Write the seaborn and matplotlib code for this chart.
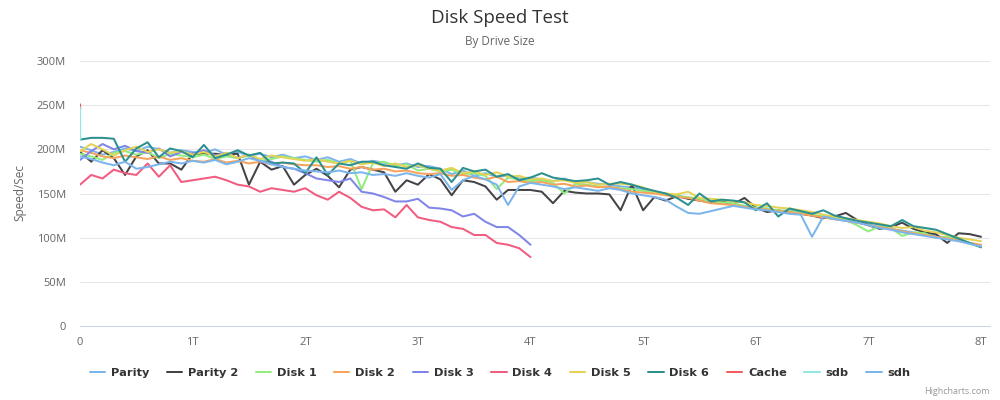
import numpy as np
import pandas as pd
import seaborn as sns
import matplotlib.pyplot as plt
from matplotlib.ticker import FuncFormatter

# drive size in T, speed in M/sec (step 0.1T)
sizes_8t = np.round(np.arange(81) * 0.1, 1)
sizes_4t = np.round(np.arange(41) * 0.1, 1)
sizes_ssd = [0.0, 0.002]

parity = [203, 199, 194, 197, 201, 198, 203, 200, 196, 199, 197,
          196, 200, 194, 197, 193, 195, 191, 194, 190, 192,
          188, 191, 186, 189, 184, 187, 185, 182, 184, 180,
          181, 178, 172, 176, 170, 173, 169, 170, 167, 168,
          166, 164, 167, 162, 163, 161, 160, 158, 157, 155,
          151, 149, 148, 145, 143, 142, 139, 137, 136, 134,
          133, 130, 131, 128, 126, 123, 121, 120, 117, 115,
          112, 110, 108, 106, 104, 102, 100, 97, 94, 91]
parity2 = [197, 186, 199, 190, 171, 192, 199, 184, 184, 177, 195,
           195, 195, 194, 195, 160, 186, 177, 181, 160, 171,
           178, 170, 157, 177, 180, 177, 174, 152, 165, 160,
           172, 166, 148, 165, 163, 158, 143, 154, 154, 154,
           152, 139, 153, 151, 150, 150, 149, 131, 160, 131,
           146, 142, 147, 144, 142, 140, 141, 138, 145, 134,
           129, 131, 128, 127, 125, 122, 124, 128, 120, 114,
           110, 112, 117, 110, 106, 104, 94, 105, 104, 101]
disk1 = [195, 192, 188, 196, 198, 194, 197, 190, 195, 193, 191,
         194, 189, 192, 190, 193, 187, 189, 192, 190, 188,
         186, 188, 184, 187, 155, 184, 186, 181, 183, 176,
         178, 175, 177, 172, 173, 170, 155, 168, 166, 164,
         165, 162, 150, 161, 160, 158, 157, 156, 155, 153,
         151, 150, 147, 146, 144, 141, 140, 139, 136, 134,
         133, 131, 130, 128, 126, 124, 122, 120, 114, 107,
         113, 111, 102, 106, 105, 100, 101, 97, 93, 90]
disk2 = [199, 196, 192, 190, 193, 191, 189, 192, 188, 190, 187,
         186, 189, 185, 187, 184, 186, 183, 185, 183, 182,
         182, 180, 181, 178, 180, 177, 178, 175, 176, 173,
         172, 173, 170, 171, 168, 166, 169, 163, 164, 162,
         163, 160, 161, 158, 159, 157, 158, 155, 152, 151,
         150, 148, 146, 145, 142, 139, 138, 137, 135, 133,
         132, 130, 129, 127, 125, 123, 121, 119, 117, 114,
         112, 110, 107, 105, 103, 101, 99, 97, 94, 92]
disk3 = [188, 198, 206, 200, 204, 198, 196, 201, 192, 197, 195,
         199, 193, 196, 190, 194, 186, 186, 180, 178, 173,
         167, 165, 163, 167, 152, 150, 146, 141, 141, 144,
         134, 133, 131, 124, 127, 118, 112, 112, 103, 92]
disk4 = [160, 171, 167, 177, 173, 171, 184, 169, 182, 163, 165,
         167, 169, 165, 160, 158, 152, 156, 154, 152, 156,
         148, 143, 152, 145, 135, 131, 132, 123, 137, 123,
         120, 118, 112, 110, 103, 103, 94, 92, 88, 78]
disk5 = [198, 206, 200, 193, 199, 203, 197, 200, 196, 198, 194,
         197, 192, 196, 190, 194, 189, 193, 191, 189, 187,
         189, 186, 184, 187, 183, 185, 181, 184, 180, 182,
         178, 176, 179, 173, 175, 171, 174, 169, 170, 166,
         167, 164, 165, 162, 163, 160, 161, 161, 160, 157,
         152, 150, 149, 152, 145, 144, 143, 141, 140, 137,
         136, 134, 133, 131, 129, 126, 124, 122, 120, 118,
         116, 113, 111, 112, 108, 106, 103, 100, 98, 96]
disk6 = [211, 213, 213, 212, 186, 201, 208, 191, 201, 198, 191,
         205, 190, 194, 199, 193, 196, 184, 185, 184, 173,
         191, 171, 184, 182, 186, 186, 182, 180, 178, 184,
         179, 178, 163, 179, 175, 177, 169, 172, 165, 168,
         173, 168, 166, 164, 165, 167, 160, 163, 160, 156,
         153, 150, 145, 137, 150, 141, 143, 142, 140, 131,
         139, 124, 133, 130, 127, 131, 125, 122, 119, 117,
         115, 113, 120, 113, 111, 109, 104, 99, 94, 89]
cache = [251, 245]
sdb = [247, 211]
sdh = [192, 189, 185, 182, 186, 178, 180, 183, 186, 184, 187,
       185, 188, 183, 186, 190, 187, 183, 180, 178, 176,
       175, 174, 176, 173, 174, 171, 172, 170, 173, 170,
       168, 172, 154, 165, 170, 166, 160, 137, 158, 162,
       160, 158, 155, 157, 155, 153, 156, 154, 150, 148,
       146, 143, 135, 128, 127, 130, 133, 136, 134, 132,
       131, 129, 127, 126, 101, 124, 121, 119, 117, 114,
       111, 109, 106, 104, 102, 100, 98, 96, 93, 90]

names = ['Parity', 'Parity 2', 'Disk 1', 'Disk 2', 'Disk 3', 'Disk 4',
         'Disk 5', 'Disk 6', 'Cache', 'sdb', 'sdh']
colors = ['#7cb5ec', '#434348', '#90ed7d', '#f7a35c', '#8085e9', '#f15c80',
          '#e4d354', '#2b908f', '#f45b5b', '#91e8e1', '#7cb5ec']
series = [(parity, sizes_8t), (parity2, sizes_8t), (disk1, sizes_8t),
          (disk2, sizes_8t), (disk3, sizes_4t), (disk4, sizes_4t),
          (disk5, sizes_8t), (disk6, sizes_8t), (cache, sizes_ssd),
          (sdb, sizes_ssd), (sdh, sizes_8t)]

frames = []
for name, (vals, xs) in zip(names, series):
    frames.append(pd.DataFrame({'size': xs, 'speed': vals, 'disk': name}))
df = pd.concat(frames, ignore_index=True)

sns.set_theme(style='white')
plt.rcParams['font.family'] = ['Open Sans', 'DejaVu Sans']
plt.rcParams['lines.solid_joinstyle'] = 'round'

fig, ax = plt.subplots(figsize=(10, 4), dpi=100)
fig.subplots_adjust(left=0.08, right=0.99, top=0.8475, bottom=0.185)

sns.lineplot(data=df, x='size', y='speed', hue='disk', hue_order=names,
             palette=colors, estimator=None, sort=False, linewidth=1.45, ax=ax)

ax.set_xlim(0, 8.08)
ax.set_ylim(0, 300)
ax.set_yticks(range(0, 301, 50))
ax.set_xticks(range(0, 9))
ax.yaxis.set_major_formatter(FuncFormatter(lambda v, p: '0' if v == 0 else f'{int(v)}M'))
ax.xaxis.set_major_formatter(FuncFormatter(lambda v, p: '0' if v == 0 else f'{int(v)}T'))
ax.grid(axis='y', color='#e6e6e6', linewidth=0.75)
ax.set_axisbelow(True)
for s in ['top', 'right', 'left']:
    ax.spines[s].set_visible(False)
ax.spines['bottom'].set_color('#ccd6eb')
ax.spines['bottom'].set_linewidth(0.75)
ax.tick_params(axis='y', length=0, pad=10, labelsize=8, labelcolor='#666666')
ax.tick_params(axis='x', length=7, width=0.75, color='#ccd6eb', pad=1,
               labelsize=8, labelcolor='#666666')
ax.set_xlabel('')
ax.set_ylabel('')

fig.text(0.5, 1 - 18 / 400, 'Disk Speed Test', ha='center', va='center',
         fontsize=13.5, color='#333333')
fig.text(0.5, 1 - 41 / 400, 'By Drive Size', ha='center', va='center',
         fontsize=8.5, color='#666666')
fig.text(0.02, 1 - 193 / 400, 'Speed/Sec', rotation=90, ha='center', va='center',
         fontsize=8.5, color='#666666')
fig.text(0.99, 1 - 392 / 400, 'Highcharts.com', ha='right', va='center',
         fontsize=6.5, color='#999999')

handles, labels = ax.get_legend_handles_labels()
ax.get_legend().remove()
leg = fig.legend(handles, labels, loc='center', bbox_to_anchor=(0.5, 1 - 373 / 400),
                 ncol=11, frameon=False, handlelength=1.35, handletextpad=0.5,
                 columnspacing=1.55,
                 prop={'family': 'DejaVu Sans', 'weight': 'bold', 'size': 8.2})
for t in leg.get_texts():
    t.set_color('#333333')
for h in leg.get_lines():
    h.set_linewidth(1.45)

plt.savefig('out.png', dpi=100)
plt.close()
